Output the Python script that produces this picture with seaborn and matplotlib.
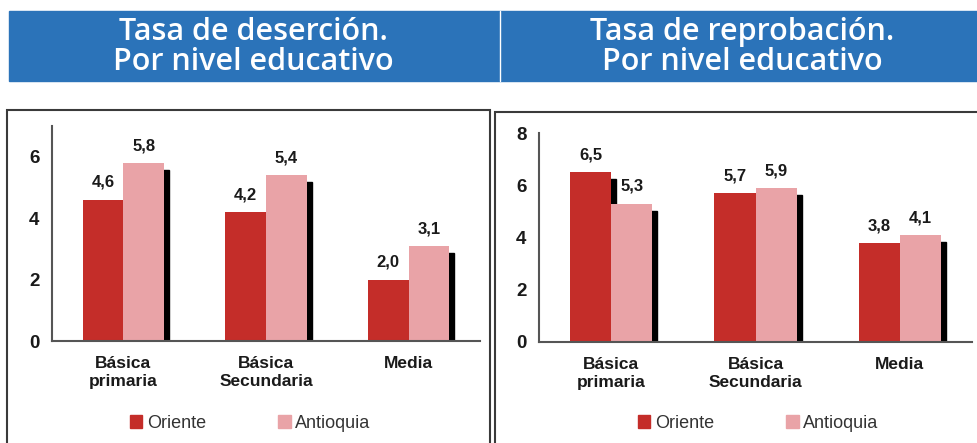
import matplotlib
matplotlib.use("Agg")
from matplotlib import pyplot as plt
from matplotlib.patches import Rectangle, Patch
from matplotlib import transforms
import seaborn as sns
import pandas as pd

#%%
# Daten
niveles = ["Básica\nprimaria", "Básica\nSecundaria", "Media"]
regiones = ["Oriente", "Antioquia"]
desercion_oriente = [4.6, 4.2, 2.0]
desercion_antioquia = [5.8, 5.4, 3.1]
reprobacion_oriente = [6.5, 5.7, 3.8]
reprobacion_antioquia = [5.3, 5.9, 4.1]
titulos = ["Tasa de deserción.\nPor nivel educativo",
           "Tasa de reprobación.\nPor nivel educativo"]
y_max = [7, 8]
y_ticks = [[0, 2, 4, 6], [0, 2, 4, 6, 8]]

colores = {"Oriente": "#c42d29", "Antioquia": "#e9a3a7"}
azul = "#2b73b9"

#%%
# Stil
sns.set_style("white")
plt.rcParams['font.family'] = ['Liberation Sans', 'DejaVu Sans']

W, H = 977, 443
fig = plt.figure(figsize=(W / 100, H / 100), dpi=100)

# blaue Kopfzeile
fig.patches.append(Rectangle((9 / W, (H - 81) / H), (W - 9) / W, 70 / H,
                             transform=fig.transFigure, color=azul, zorder=0))
fig.lines.append(plt.Line2D([500 / W, 500 / W], [(H - 81) / H, (H - 11) / H],
                            transform=fig.transFigure, color="white", lw=1))
for titulo, xc in zip(titulos, [253, 742]):
    # jede Zeile einzeln auf ihre Grundlinie setzen
    for zeile, basis in zip(titulo.split("\n"), [40, 70]):
        fig.text(xc / W, (H - basis) / H, zeile, ha="center", va="baseline",
                 color="white", fontsize=22, fontweight="semibold",
                 family=['Open Sans', 'DejaVu Sans'])

# Rahmen der Panels
fig.patches.append(Rectangle((7 / W, -0.05), (490 - 7) / W, (H - 110) / H + 0.05,
                             transform=fig.transFigure, fill=False,
                             edgecolor="#3a3a3a", lw=1.5))
fig.patches.append(Rectangle((495 / W, -0.05), 0.6, (H - 112) / H + 0.05,
                             transform=fig.transFigure, fill=False,
                             edgecolor="#3a3a3a", lw=1.5))

#%%
# Balkendiagramme
datos = [(desercion_oriente, desercion_antioquia),
         (reprobacion_oriente, reprobacion_antioquia)]
posiciones = [[52 / W, 102 / H, 428 / W, 215 / H],
              [539 / W, 101 / H, 433 / W, 209 / H]]
leyenda_x = [250, 758]

for i in range(2):
    ori, ant = datos[i]
    df = pd.DataFrame({
        "nivel": niveles * 2,
        "region": ["Oriente"] * 3 + ["Antioquia"] * 3,
        "valor": ori + ant,
    })
    ax = fig.add_axes(posiciones[i])
    sns.barplot(data=df, x="nivel", y="valor", hue="region",
                hue_order=regiones, palette=colores, width=0.57,
                saturation=1, legend=False, edgecolor="none", ax=ax)

    # Schatten hinter den Balken
    schatten = transforms.offset_copy(ax.transData, fig, x=5, y=-7, units="dots")
    for p in list(ax.patches):
        ax.add_patch(Rectangle((p.get_x(), 0), p.get_width(), p.get_height(),
                               color="black", zorder=0.5, transform=schatten))

    # Werte beschriften
    for cont, vals in zip(ax.containers, [ori, ant]):
        ax.bar_label(cont, labels=[f"{v:.1f}".replace(".", ",") for v in vals],
                     padding=7, fontsize=12, fontweight="bold", color="#1a1a1a")

    ax.set_xlim(-0.5, 2.5)
    ax.set_ylim(0, y_max[i])
    ax.set_yticks(y_ticks[i])
    ax.set_xticks(range(3))
    ax.set_xticklabels(niveles, fontweight="bold", fontsize=12.5, color="#1a1a1a")
    ax.set_xticks([0.5, 1.5, 2.5], minor=True)
    ax.tick_params(axis="x", which="major", length=0, pad=11)
    ax.tick_params(axis="x", which="minor", length=5, width=1.2, color="#555")
    ax.tick_params(axis="y", length=5, width=1.2, color="#555", pad=4,
                   labelsize=13.5, labelcolor="#1a1a1a")
    for t in ax.get_yticklabels():
        t.set_fontweight("bold")
    ax.set_xlabel("")
    ax.set_ylabel("")
    sns.despine(ax=ax)
    for s in ["left", "bottom"]:
        ax.spines[s].set_color("#555")
        ax.spines[s].set_linewidth(1.5)

    # Legende
    griffe = [Patch(color=colores[r]) for r in regiones]
    fig.legend(griffe, regiones, loc="center",
               bbox_to_anchor=(leyenda_x[i] / W, 20 / H), ncol=2, frameon=False,
               handlelength=0.7, handleheight=0.7, handletextpad=0.25,
               columnspacing=4.0, fontsize=13, labelcolor="#333333")

fig.savefig("out.png", dpi=100)
